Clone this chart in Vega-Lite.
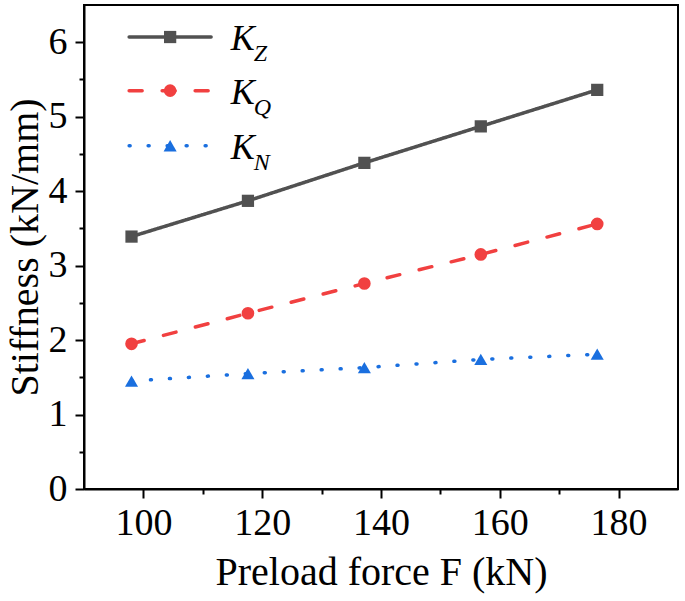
{
  "$schema": "https://vega.github.io/schema/vega-lite/v6.json",
  "width": 594,
  "height": 484,
  "config": {"view": {"stroke": "black", "strokeWidth": 2}},
  "data": {"values": [
    {"F": 98, "value": 3.39, "series": "K_Z"},
    {"F": 117.6, "value": 3.87, "series": "K_Z"},
    {"F": 137.2, "value": 4.38, "series": "K_Z"},
    {"F": 156.8, "value": 4.87, "series": "K_Z"},
    {"F": 176.4, "value": 5.36, "series": "K_Z"},
    {"F": 98, "value": 1.95, "series": "K_Q"},
    {"F": 117.6, "value": 2.36, "series": "K_Q"},
    {"F": 137.2, "value": 2.76, "series": "K_Q"},
    {"F": 156.8, "value": 3.15, "series": "K_Q"},
    {"F": 176.4, "value": 3.56, "series": "K_Q"},
    {"F": 98, "value": 1.45, "series": "K_N"},
    {"F": 117.6, "value": 1.55, "series": "K_N"},
    {"F": 137.2, "value": 1.63, "series": "K_N"},
    {"F": 156.8, "value": 1.74, "series": "K_N"},
    {"F": 176.4, "value": 1.81, "series": "K_N"}
  ]},
  "layer": [
    {
      "mark": {"type": "line", "strokeWidth": 3.5, "strokeCap": "round"},
      "encoding": {
        "x": {
          "field": "F", "type": "quantitative",
          "scale": {"domain": [90, 190], "nice": false, "zero": false},
          "axis": {
            "orient": "bottom",
            "values": [100, 110, 120, 130, 140, 150, 160, 170, 180],
            "labelExpr": "datum.value % 20 === 0 ? '' + datum.value : ''",
            "labelOverlap": false, "labelFlush": false, "labelBound": false,
            "grid": false, "domainColor": "black", "domainWidth": 2,
            "tickColor": "black", "tickWidth": 2,
            "tickSize": {"condition": {"test": "datum.value % 20 === 0", "value": 9}, "value": 5},
            "labelPadding": 6, "labelColor": "black", "labelFont": "Liberation Serif", "labelFontSize": 38,
            "title": "Preload force F (kN)", "titlePadding": 10, "titleColor": "black",
            "titleFont": "Liberation Serif", "titleFontSize": 40, "titleFontWeight": "normal"
          }
        },
        "y": {
          "field": "value", "type": "quantitative",
          "scale": {"domain": [0, 6.5], "nice": false, "zero": false},
          "axis": {
            "orient": "left",
            "values": [0, 0.5, 1, 1.5, 2, 2.5, 3, 3.5, 4, 4.5, 5, 5.5, 6],
            "labelExpr": "datum.value % 1 === 0 ? '' + datum.value : ''",
            "labelOverlap": false, "labelFlush": false, "labelBound": false,
            "grid": false, "domainColor": "black", "domainWidth": 2,
            "tickColor": "black", "tickWidth": 2,
            "tickSize": {"condition": {"test": "datum.value % 1 === 0", "value": 9}, "value": 5},
            "labelPadding": 8, "labelColor": "black", "labelFont": "Liberation Serif", "labelFontSize": 38,
            "title": "Stiffness (kN/mm)", "titlePadding": 3, "titleColor": "black",
            "titleFont": "Liberation Serif", "titleFontSize": 40, "titleFontWeight": "normal"
          }
        },
        "color": {"field": "series", "type": "nominal", "scale": {"domain": ["K_Z", "K_Q", "K_N"], "range": ["#515151", "#F14040", "#1A6FDF"]}, "legend": null},
        "strokeDash": {"field": "series", "type": "nominal", "scale": {"domain": ["K_Z", "K_Q", "K_N"], "range": [[1, 0], [13, 20], [1, 18]]}, "legend": null}
      }
    },
    {
      "mark": {"type": "point", "filled": true, "opacity": 1},
      "encoding": {
        "x": {"field": "F", "type": "quantitative", "scale": {"domain": [90, 190], "nice": false, "zero": false}},
        "y": {"field": "value", "type": "quantitative", "scale": {"domain": [0, 6.5], "nice": false, "zero": false}},
        "color": {"field": "series", "type": "nominal", "legend": null},
        "shape": {"field": "series", "type": "nominal", "scale": {"domain": ["K_Z", "K_Q", "K_N"], "range": ["square", "circle", "triangle-up"]}, "legend": null},
        "size": {"field": "series", "type": "nominal", "scale": {"domain": ["K_Z", "K_Q", "K_N"], "range": [150, 170, 340]}, "legend": null}
      }
    },
    {
      "data": {"values": [{"series": "K_Z", "sub": "Z"}, {"series": "K_Q", "sub": "Q"}, {"series": "K_N", "sub": "N"}]},
      "transform": [{"filter": "datum.series === 'K_Z'"}],
      "encoding": {"y": {"datum": 6.07, "type": "quantitative"}},
      "layer": [
        {"mark": {"type": "rule", "strokeWidth": 3.5, "strokeCap": "round"},
         "encoding": {"x": {"datum": 97.6, "type": "quantitative"}, "x2": {"datum": 111.4},
                      "color": {"field": "series", "type": "nominal", "legend": null},
                      "strokeDash": {"field": "series", "type": "nominal", "legend": null}}},
        {"mark": {"type": "point", "filled": true, "opacity": 1},
         "encoding": {"x": {"datum": 104.5, "type": "quantitative"},
                      "color": {"field": "series", "type": "nominal", "legend": null},
                      "shape": {"field": "series", "type": "nominal", "legend": null},
                      "size": {"field": "series", "type": "nominal", "legend": null}}},
        {"mark": {"type": "text", "text": "K", "font": "Liberation Serif", "fontStyle": "italic", "fontSize": 36, "align": "left", "baseline": "middle", "color": "black", "dy": 2},
         "encoding": {"x": {"datum": 114.7, "type": "quantitative"}}},
        {"mark": {"type": "text", "font": "Liberation Serif", "fontStyle": "italic", "fontSize": 24, "align": "left", "baseline": "middle", "color": "black", "dx": 23, "dy": 17},
         "encoding": {"x": {"datum": 114.7, "type": "quantitative"}, "text": {"field": "sub", "type": "nominal"}}}
      ]
    },
    {
      "data": {"values": [{"series": "K_Z", "sub": "Z"}, {"series": "K_Q", "sub": "Q"}, {"series": "K_N", "sub": "N"}]},
      "transform": [{"filter": "datum.series === 'K_Q'"}],
      "encoding": {"y": {"datum": 5.35, "type": "quantitative"}},
      "layer": [
        {"mark": {"type": "rule", "strokeWidth": 3.5, "strokeCap": "round"},
         "encoding": {"x": {"datum": 97.6, "type": "quantitative"}, "x2": {"datum": 111.4},
                      "color": {"field": "series", "type": "nominal", "legend": null},
                      "strokeDash": {"field": "series", "type": "nominal", "legend": null}}},
        {"mark": {"type": "point", "filled": true, "opacity": 1},
         "encoding": {"x": {"datum": 104.5, "type": "quantitative"},
                      "color": {"field": "series", "type": "nominal", "legend": null},
                      "shape": {"field": "series", "type": "nominal", "legend": null},
                      "size": {"field": "series", "type": "nominal", "legend": null}}},
        {"mark": {"type": "text", "text": "K", "font": "Liberation Serif", "fontStyle": "italic", "fontSize": 36, "align": "left", "baseline": "middle", "color": "black", "dy": 2},
         "encoding": {"x": {"datum": 114.7, "type": "quantitative"}}},
        {"mark": {"type": "text", "font": "Liberation Serif", "fontStyle": "italic", "fontSize": 24, "align": "left", "baseline": "middle", "color": "black", "dx": 23, "dy": 17},
         "encoding": {"x": {"datum": 114.7, "type": "quantitative"}, "text": {"field": "sub", "type": "nominal"}}}
      ]
    },
    {
      "data": {"values": [{"series": "K_Z", "sub": "Z"}, {"series": "K_Q", "sub": "Q"}, {"series": "K_N", "sub": "N"}]},
      "transform": [{"filter": "datum.series === 'K_N'"}],
      "encoding": {"y": {"datum": 4.61, "type": "quantitative"}},
      "layer": [
        {"mark": {"type": "rule", "strokeWidth": 3.5, "strokeCap": "round"},
         "encoding": {"x": {"datum": 97.6, "type": "quantitative"}, "x2": {"datum": 111.4},
                      "color": {"field": "series", "type": "nominal", "legend": null},
                      "strokeDash": {"field": "series", "type": "nominal", "legend": null}}},
        {"mark": {"type": "point", "filled": true, "opacity": 1},
         "encoding": {"x": {"datum": 104.5, "type": "quantitative"},
                      "color": {"field": "series", "type": "nominal", "legend": null},
                      "shape": {"field": "series", "type": "nominal", "legend": null},
                      "size": {"field": "series", "type": "nominal", "legend": null}}},
        {"mark": {"type": "text", "text": "K", "font": "Liberation Serif", "fontStyle": "italic", "fontSize": 36, "align": "left", "baseline": "middle", "color": "black", "dy": 2},
         "encoding": {"x": {"datum": 114.7, "type": "quantitative"}}},
        {"mark": {"type": "text", "font": "Liberation Serif", "fontStyle": "italic", "fontSize": 24, "align": "left", "baseline": "middle", "color": "black", "dx": 23, "dy": 17},
         "encoding": {"x": {"datum": 114.7, "type": "quantitative"}, "text": {"field": "sub", "type": "nominal"}}}
      ]
    }
  ]
}
